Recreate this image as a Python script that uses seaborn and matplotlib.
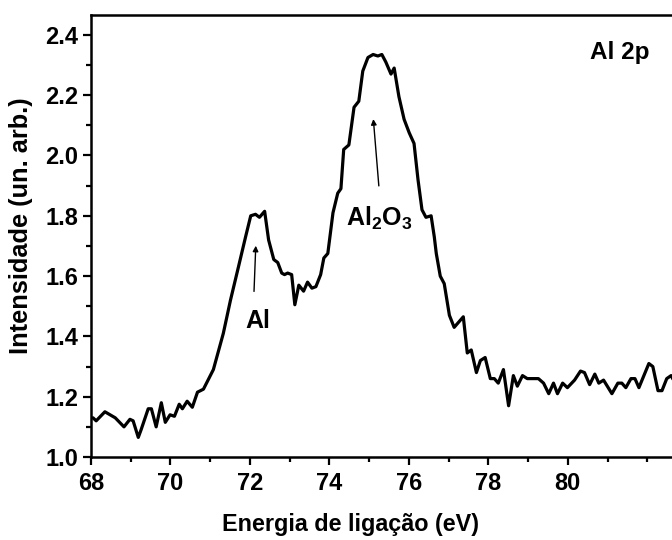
import matplotlib
matplotlib.use("Agg")
import matplotlib.pyplot as plt
import seaborn as sns
import pandas as pd
from matplotlib.ticker import MultipleLocator

energy = [68.05, 68.13, 68.35, 68.61, 68.83, 68.98, 69.06, 69.19, 69.26, 69.44,
          69.52, 69.64, 69.77, 69.87, 69.99, 70.10, 70.22, 70.30, 70.42, 70.55,
          70.68, 70.83, 71.08, 71.33, 71.51, 71.71, 71.89, 72.02, 72.14, 72.24,
          72.37, 72.47, 72.60, 72.70, 72.80, 72.87, 72.95, 73.05, 73.13, 73.20,
          73.23, 73.35, 73.45, 73.56, 73.66, 73.78, 73.86, 73.96, 74.09, 74.21,
          74.29, 74.36, 74.49, 74.62, 74.74, 74.84, 74.97, 75.10, 75.22, 75.32,
          75.42, 75.55, 75.63, 75.75, 75.88, 76.01, 76.13, 76.23, 76.33, 76.43,
          76.56, 76.64, 76.69, 76.79, 76.89, 77.02, 77.14, 77.37, 77.47, 77.57,
          77.70, 77.80, 77.92, 78.05, 78.15, 78.25, 78.38, 78.51, 78.63, 78.73,
          78.86, 78.98, 79.14, 79.26, 79.39, 79.52, 79.64, 79.74, 79.87, 79.99,
          80.17, 80.32, 80.42, 80.55, 80.68, 80.78, 80.90, 81.11, 81.26, 81.36,
          81.46, 81.59, 81.69, 81.79, 82.04, 82.14, 82.27, 82.37, 82.49, 82.60,
          82.70]
intensity = [1.13, 1.12, 1.15, 1.13, 1.10, 1.125, 1.12, 1.065, 1.09, 1.16,
             1.16, 1.10, 1.18, 1.115, 1.14, 1.135, 1.175, 1.16, 1.185, 1.165,
             1.215, 1.225, 1.29, 1.41, 1.52, 1.63, 1.73, 1.80, 1.805, 1.795,
             1.815, 1.72, 1.655, 1.645, 1.61, 1.605, 1.61, 1.605, 1.505, 1.55,
             1.57, 1.55, 1.58, 1.56, 1.565, 1.605, 1.66, 1.675, 1.81, 1.875,
             1.89, 2.02, 2.035, 2.16, 2.18, 2.28, 2.325, 2.335, 2.33, 2.335,
             2.31, 2.27, 2.29, 2.195, 2.12, 2.075, 2.04, 1.92, 1.82, 1.795,
             1.80, 1.73, 1.675, 1.60, 1.575, 1.47, 1.43, 1.465, 1.345, 1.355,
             1.28, 1.32, 1.33, 1.26, 1.26, 1.245, 1.29, 1.17, 1.27, 1.235,
             1.27, 1.26, 1.26, 1.26, 1.245, 1.21, 1.245, 1.21, 1.245, 1.23,
             1.255, 1.285, 1.28, 1.24, 1.275, 1.245, 1.255, 1.21, 1.245, 1.245,
             1.23, 1.26, 1.26, 1.23, 1.31, 1.30, 1.22, 1.22, 1.26, 1.27,
             1.245]

x_ticks = [68, 70, 72, 74, 76, 78, 80]
y_ticks = [1.0, 1.2, 1.4, 1.6, 1.8, 2.0, 2.2, 2.4]

sns.set_style("ticks")
plt.rcParams['font.family'] = ['Liberation Sans', 'DejaVu Sans']
plt.rcParams['font.weight'] = 'bold'
plt.rcParams['text.color'] = 'black'
plt.rcParams['axes.labelcolor'] = 'black'
plt.rcParams['xtick.color'] = 'black'
plt.rcParams['ytick.color'] = 'black'
plt.rcParams['axes.edgecolor'] = 'black'
plt.rcParams['mathtext.fontset'] = 'custom'
plt.rcParams['mathtext.rm'] = 'Liberation Sans:bold'
plt.rcParams['mathtext.bf'] = 'Liberation Sans:bold'
plt.rcParams['mathtext.it'] = 'Liberation Sans:bold'

df = pd.DataFrame({"energy": energy, "intensity": intensity})

fig = plt.figure(figsize=(6.72, 5.40), dpi=100)
ax = fig.add_axes([91/672, 83/540, 596/672, 442/540])
sns.lineplot(data=df, x="energy", y="intensity", color="black", linewidth=2.3,
             ax=ax, sort=False)

ax.set_xlim(68, 83)
ax.set_ylim(1.0, 2.466)
ax.set_xticks(x_ticks)
ax.set_yticks(y_ticks)
ax.set_xticklabels([str(t) for t in x_ticks])
ax.set_yticklabels([f"{t:.1f}" for t in y_ticks])
ax.xaxis.set_minor_locator(MultipleLocator(1))
ax.yaxis.set_minor_locator(MultipleLocator(0.1))
ax.tick_params(axis='both', which='major', direction='out', length=6, width=1.6,
               labelsize=17, colors='black')
ax.tick_params(axis='x', which='major', pad=5)
ax.tick_params(axis='y', which='major', pad=3)
ax.tick_params(axis='both', which='minor', direction='out', length=3.5, width=1.6,
               colors='black')
for lab in ax.get_xticklabels() + ax.get_yticklabels():
    lab.set_fontweight('bold')
for s in ax.spines.values():
    s.set_linewidth(1.8)
    s.set_color('black')

ax.set_xlabel("Energia de ligação (eV)", fontsize=16.8, fontweight='bold',
              color='black')
ax.set_ylabel("Intensidade (un. arb.)", fontsize=18.3, fontweight='bold',
              color='black')
ax.xaxis.set_label_coords((350 - 91) / 596, -(525 - 457) / 442)
ax.yaxis.set_label_coords(-(91 - 21) / 596, (457 - 226) / 442)
ax.xaxis.label.set_va('center')
ax.yaxis.label.set_va('center')

ax.annotate("", xy=(72.15, 1.71), xytext=(72.1, 1.54),
            arrowprops=dict(arrowstyle="-|>", color="black", lw=1.0,
                            mutation_scale=8))
ax.text(72.2, 1.45, "Al", fontsize=18, fontweight='bold', ha='center',
        va='center', color='black')

ax.annotate("", xy=(75.1, 2.13), xytext=(75.25, 1.89),
            arrowprops=dict(arrowstyle="-|>", color="black", lw=1.0,
                            mutation_scale=8))
ax.text(75.25, 1.79, r"$\mathbf{Al_2O_3}$", fontsize=18, ha='center',
        va='center', color='black')

ax.text(81.3, 2.34, "Al 2p", fontsize=17.5, fontweight='bold', ha='center',
        va='center', color='black')

fig.savefig("out.png", dpi=100)
